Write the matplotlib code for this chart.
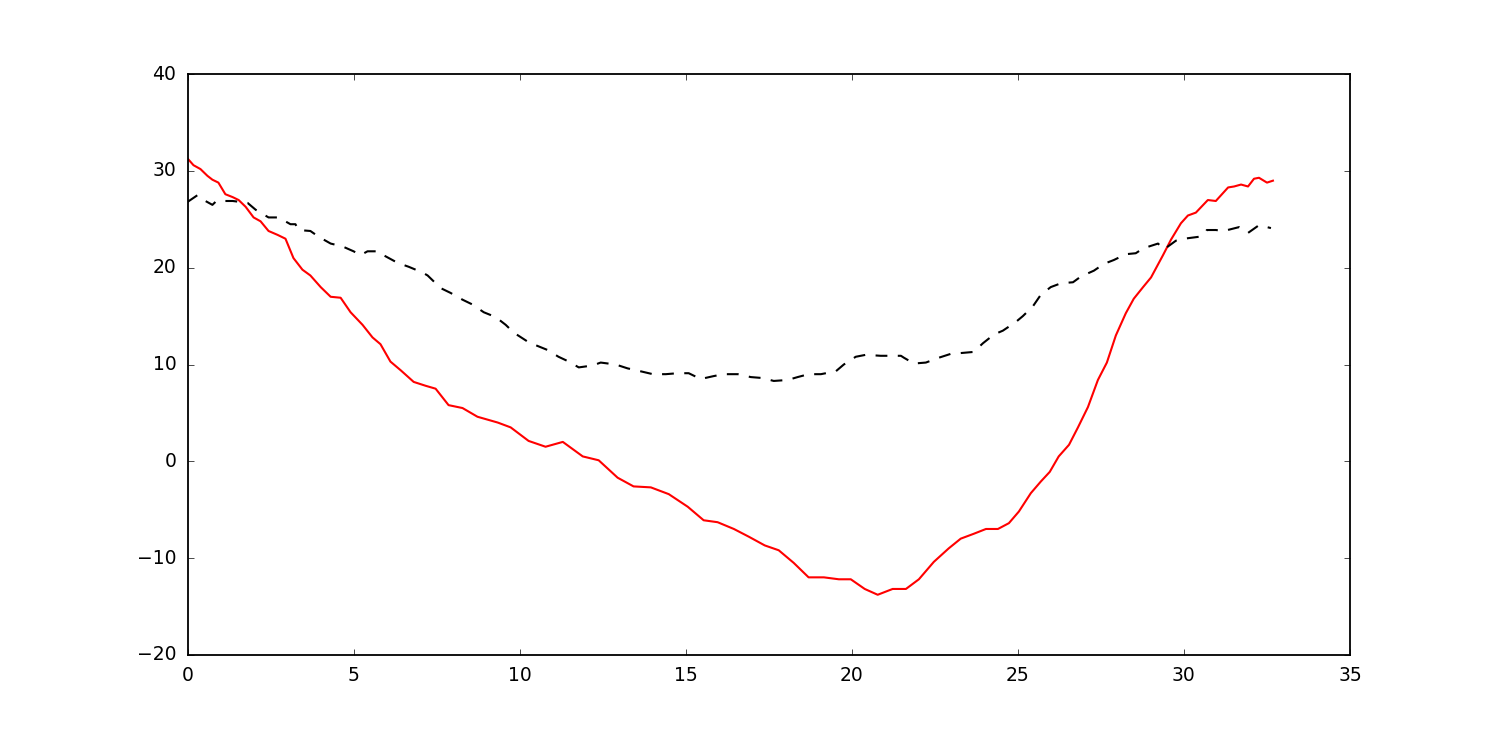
import matplotlib
matplotlib.use('Agg')
import matplotlib.pyplot as plt

# serie roja (continua)
x_red = [0.00, 0.18, 0.39, 0.60, 0.75, 0.93, 1.14, 1.36, 1.54, 1.75, 1.99, 2.20, 2.44, 2.71, 2.95,
         3.19, 3.46, 3.70, 4.01, 4.31, 4.61, 4.91, 5.27, 5.57, 5.81, 6.11, 6.42, 6.81, 7.17, 7.47,
         7.86, 8.28, 8.73, 9.34, 9.73, 10.27, 10.78, 11.30, 11.90, 12.38, 12.95, 13.43, 13.95, 14.49,
         15.06, 15.54, 15.96, 16.45, 16.90, 17.38, 17.80, 18.25, 18.70, 19.16, 19.61, 19.97, 20.39,
         20.78, 21.23, 21.63, 22.02, 22.47, 22.92, 23.28, 23.67, 24.04, 24.40, 24.73, 25.03, 25.39,
         25.69, 25.96, 26.23, 26.54, 26.81, 27.11, 27.41, 27.68, 27.95, 28.25, 28.49, 28.77, 29.01,
         29.37, 29.61, 29.91, 30.12, 30.36, 30.72, 30.96, 31.33, 31.51, 31.72, 31.93, 32.11, 32.26,
         32.50, 32.68]
y_red = [31.3, 30.6, 30.2, 29.5, 29.1, 28.8, 27.6, 27.3, 27.0, 26.3, 25.2, 24.8, 23.8, 23.4, 23.0,
         21.0, 19.8, 19.2, 18.0, 17.0, 16.9, 15.4, 14.1, 12.8, 12.1, 10.3, 9.4, 8.2, 7.8, 7.5,
         5.8, 5.5, 4.6, 4.0, 3.5, 2.1, 1.5, 2.0, 0.5, 0.1, -1.7, -2.6, -2.7, -3.4,
         -4.7, -6.1, -6.3, -7.0, -7.8, -8.7, -9.2, -10.5, -12.0, -12.0, -12.2, -12.2, -13.2,
         -13.8, -13.2, -13.2, -12.2, -10.4, -9.0, -8.0, -7.5, -7.0, -7.0, -6.4, -5.2, -3.3,
         -2.1, -1.1, 0.5, 1.7, 3.5, 5.6, 8.4, 10.2, 13.0, 15.3, 16.8, 18.0, 19.0,
         21.3, 22.9, 24.6, 25.4, 25.7, 27.0, 26.9, 28.3, 28.4, 28.6, 28.4, 29.2, 29.3,
         28.8, 29.0]

# serie negra (discontinua)
x_black = [0.00, 0.30, 0.54, 0.75, 0.87, 1.36, 1.60, 1.81, 2.05, 2.44, 2.74, 3.10, 3.25, 3.34,
           3.70, 3.95, 4.31, 4.67, 5.00, 5.21, 5.42, 5.75, 5.90, 6.33, 6.66, 7.08, 7.23, 7.62,
           7.92, 8.28, 8.58, 8.92, 9.28, 9.58, 9.82, 10.27, 10.48, 10.84, 11.17, 11.48, 11.78,
           12.20, 12.44, 12.89, 13.25, 13.64, 14.01, 14.40, 14.76, 15.09, 15.45, 15.84, 16.14,
           16.57, 16.96, 17.32, 17.65, 18.07, 18.37, 18.70, 19.07, 19.52, 19.76, 20.12, 20.42,
           20.87, 21.48, 21.57, 21.87, 22.23, 22.62, 22.98, 23.34, 23.67, 23.95, 24.28, 24.55,
           24.94, 25.15, 25.45, 25.69, 25.99, 26.30, 26.66, 26.90, 27.29, 27.59, 27.89, 28.25,
           28.55, 28.77, 29.22, 29.40, 29.76, 30.00, 30.45, 30.60, 30.69, 30.96, 31.20, 31.66,
           31.93, 32.26, 32.62]
y_black = [26.8, 27.5, 26.9, 26.5, 26.9, 26.9, 26.8, 26.7, 26.0, 25.2, 25.2, 24.5, 24.5, 23.9,
           23.8, 23.2, 22.5, 22.2, 21.7, 21.3, 21.7, 21.7, 21.3, 20.5, 20.1, 19.5, 19.2, 17.9,
           17.4, 16.7, 16.2, 15.4, 14.9, 14.1, 13.3, 12.3, 12.0, 11.5, 10.8, 10.3, 9.7,
           9.9, 10.2, 10.0, 9.6, 9.3, 9.0, 9.0, 9.1, 9.1, 8.5, 8.8, 9.0,
           9.0, 8.7, 8.6, 8.3, 8.4, 8.7, 9.0, 9.0, 9.3, 10.0, 10.8, 11.0,
           10.9, 10.9, 10.7, 10.1, 10.2, 10.7, 11.1, 11.2, 11.3, 12.2, 13.1, 13.5,
           14.4, 15.0, 16.0, 17.2, 18.0, 18.4, 18.5, 19.1, 19.7, 20.4, 20.8, 21.4,
           21.5, 22.0, 22.5, 21.9, 22.8, 23.0, 23.2, 23.4, 23.9, 23.9, 23.8, 24.2,
           23.6, 24.4, 24.1]

plt.style.use('classic')
fig = plt.figure(figsize=(15, 7.5), dpi=100)
ax = fig.add_axes([0.125, 0.127, 0.775, 0.774])

ax.plot(x_red, y_red, color='red', linewidth=1.5)
ax.plot(x_black, y_black, color='black', linewidth=1.5, linestyle='--', dashes=(8.5, 7.5))

ax.set_xlim(0, 35)
ax.set_ylim(-20, 40)
ax.tick_params(labelsize=13.5, pad=8)
for s in ax.spines.values():
    s.set_linewidth(1.3)

fig.savefig('out.png', dpi=100)
